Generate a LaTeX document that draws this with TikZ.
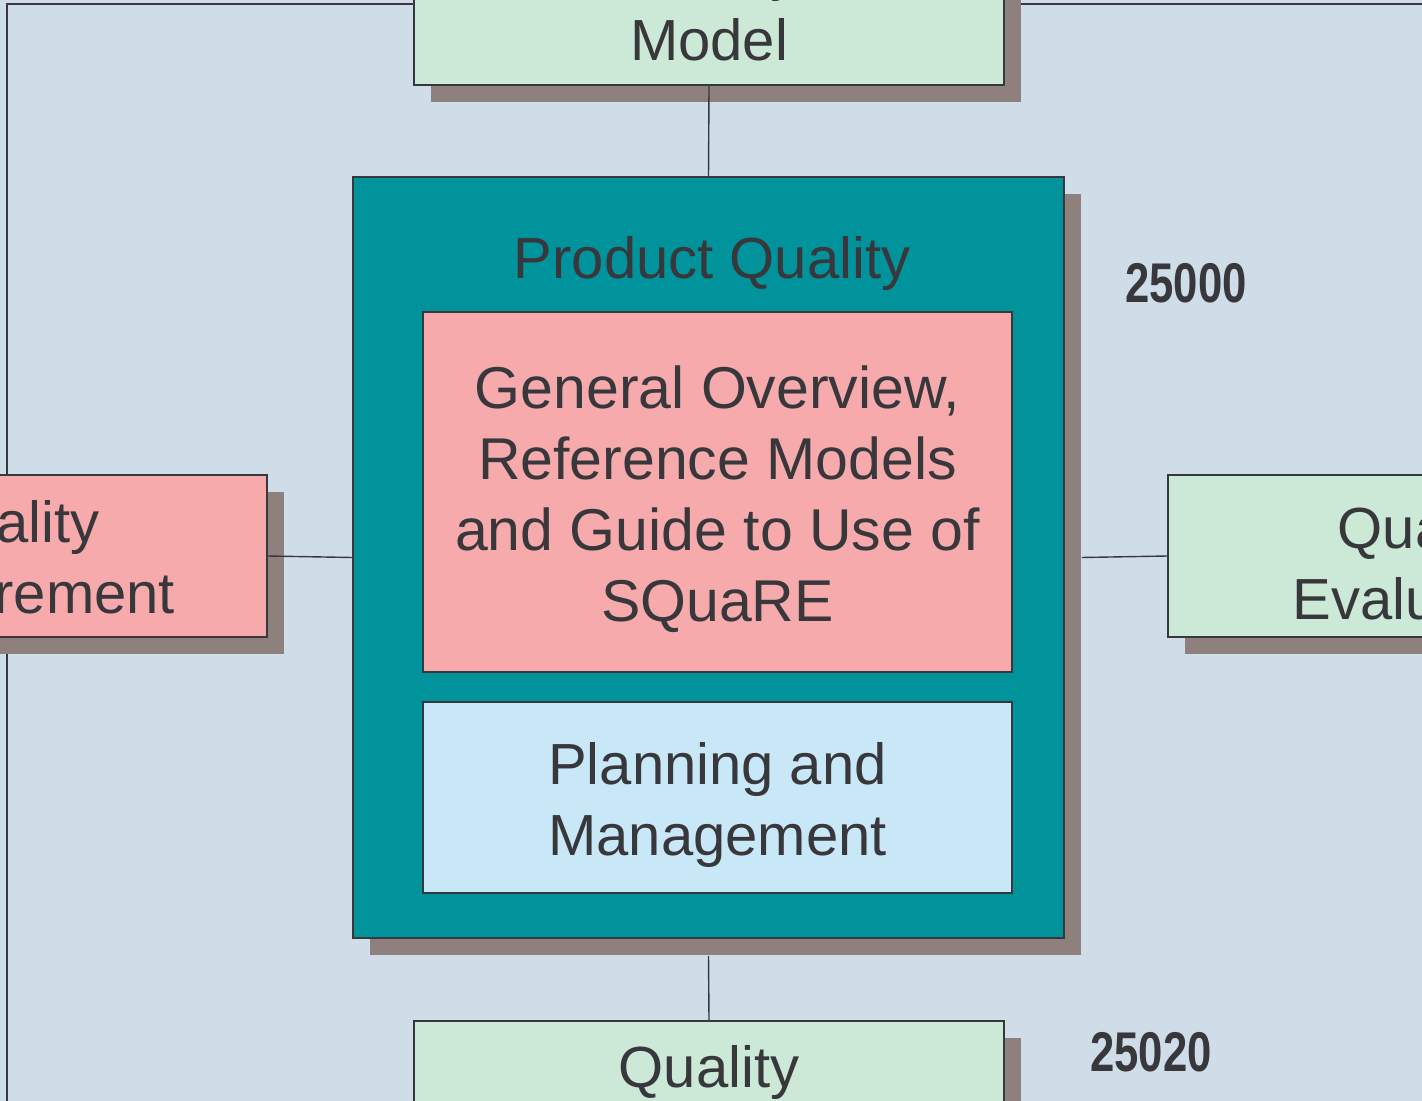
\documentclass[tikz,border=0pt]{standalone}
\usepackage{fontspec}
\setmainfont{Liberation Sans}
\newfontfamily\numfont[FakeStretch=0.78]{Liberation Sans}
\usetikzlibrary{shadows}
\definecolor{bgc}{HTML}{CFDDE9}
\definecolor{tealc}{HTML}{00939C}
\definecolor{greenc}{HTML}{CCE8D6}
\definecolor{pinkc}{HTML}{F6AAAC}
\definecolor{bluec}{HTML}{C8E8F8}
\definecolor{shadowc}{HTML}{8E817D}
\definecolor{textc}{HTML}{38383C}
\definecolor{linec}{HTML}{38383C}
\newcommand\toppad{\rule{0pt}{28.2pt}}
\tikzset{
  boxstyle/.style={draw=linec, line width=0.9pt, rectangle, inner sep=0pt, align=center,
    text=textc, font=\fontsize{29}{35.5}\selectfont},
  shadowed/.style={drop shadow={shadow xshift=8.5pt, shadow yshift=-8.5pt, fill=shadowc, opacity=1, draw=none}},
  conn/.style={draw=linec, line width=0.7pt},
  numlabel/.style={text=textc, font=\numfont\bfseries\fontsize{28}{30}\selectfont, inner sep=0pt}
}
\begin{document}
\begin{tikzpicture}[x=0.5pt, y=-0.5pt]
\useasboundingbox (0,0) rectangle (1422,1101);
\clip (0,0) rectangle (1422,1101);
\fill[bgc] (0,0) rectangle (1422,1101);
% frame lines
\coordinate (fbl) at (7,1120);
\coordinate (ftl) at (7,4);
\coordinate (ftr) at (1440,4);
\draw[conn] (fbl) -- (ftl) -- (ftr);
% outer boxes
\node[boxstyle, shadowed, fill=greenc, minimum width=295pt, minimum height=81pt] (top) at (709,4) {Quality\\Model};
\node[boxstyle, shadowed, fill=tealc, minimum width=355.5pt, minimum height=380.5pt] (prod) at (708.5,557.5) {};
\node[boxstyle, shadowed, fill=pinkc, minimum width=258pt, minimum height=81pt] (left) at (9,556) {\toppad Quality\\Requirement};
\node[boxstyle, shadowed, fill=greenc, minimum width=260pt, minimum height=81pt] (right) at (1428,556) {\toppad Quality\\Evaluation};
\node[boxstyle, shadowed, fill=greenc, minimum width=295pt, minimum height=81pt] (bot) at (709,1102) {Quality\\Measurement};
% inner content
\node[text=textc, font=\fontsize{29}{35.5}\selectfont, inner sep=0pt] (ptitle) at (712,264) {Product Quality};
\node[boxstyle, fill=pinkc, minimum width=294.5pt, minimum height=180pt, font=\fontsize{29.5}{35.5}\selectfont] (gen) at (717.5,492) {\toppad General Overview,\\Reference Models\\and Guide to Use of\\SQuaRE};
\node[boxstyle, fill=bluec, minimum width=294.5pt, minimum height=95.5pt] (plan) at (717.5,797.5) {\toppad Planning and\\Management};
\node[numlabel] (n1) at (1186,283) {25000};
\node[numlabel] (n2) at (1151,1052) {25020};
% connectors
\draw[conn] (top.south) -- (prod.north);
\draw[conn] ([yshift=-8.5pt]prod.south) -- (bot.north);
\draw[conn] (left.east) -- (prod.west);
\draw[conn] ([xshift=8.5pt]prod.east) -- (right.west);
\end{tikzpicture}
\end{document}
